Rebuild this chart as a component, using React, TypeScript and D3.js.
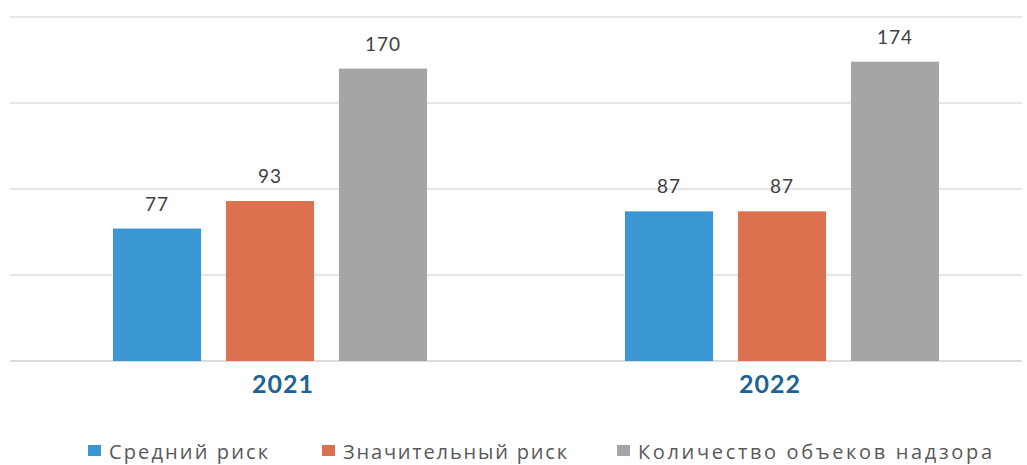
import React, { useEffect, useRef } from 'react';
import * as d3 from 'd3';

const years = ['2021', '2022'];
const seriesNames = ['Средний риск', 'Значительный риск', 'Количество объеков надзора'];
const seriesColors = ['#3b97d3', '#dc7150', '#a5a5a5'];
const mediumRisk = [77, 87];
const significantRisk = [93, 87];
const objectsTotal = [170, 174];
const yTicks = [0, 50, 100, 150, 200];

const W = 1027;
const H = 465;

export default function App() {
  const ref = useRef<SVGSVGElement>(null);

  useEffect(() => {
    const svg = d3.select(ref.current);
    svg.selectAll('*').remove();

    const values = [mediumRisk, significantRisk, objectsTotal];
    const font = 'Lato, "Open Sans", sans-serif';

    const y = d3.scaleLinear().domain([0, 200]).range([361, 17]);
    const x0 = d3.scaleBand().domain(years).range([14, 1038]);
    const x1 = d3
      .scaleBand()
      .domain(seriesNames)
      .range([99, 413])
      .paddingInner(0.22);

    // gridlines
    svg
      .append('g')
      .selectAll('line')
      .data(yTicks)
      .enter()
      .append('line')
      .attr('x1', 10)
      .attr('x2', 1022)
      .attr('y1', (d) => y(d))
      .attr('y2', (d) => y(d))
      .attr('stroke', (d) => (d === 0 ? '#d0d0d0' : '#dedede'))
      .attr('stroke-width', 1.3);

    // year labels sit a little off the group centre in the original
    const yearShift = [13, -12];

    const groups = svg
      .append('g')
      .selectAll('g')
      .data(years)
      .enter()
      .append('g')
      .attr('transform', (d) => `translate(${x0(d)},0)`);

    groups.each(function (year, yi) {
      const g = d3.select(this);
      seriesNames.forEach((name, si) => {
        const v = values[si][yi];
        g.append('rect')
          .attr('x', x1(name)!)
          .attr('y', y(v))
          .attr('width', x1.bandwidth())
          .attr('height', y(0) - y(v))
          .attr('fill', seriesColors[si]);
        g.append('text')
          .attr('x', x1(name)! + x1.bandwidth() / 2)
          .attr('y', y(v) - 18)
          .attr('text-anchor', 'middle')
          .attr('font-family', font)
          .attr('font-size', 19)
          .attr('letter-spacing', 1)
          .attr('fill', '#404040')
          .text(v);
      });
      g.append('text')
        .attr('x', x0.bandwidth() / 2 + yearShift[yi])
        .attr('y', 393)
        .attr('text-anchor', 'middle')
        .attr('font-family', font)
        .attr('font-size', 25)
        .attr('font-weight', 'bold')
        .attr('letter-spacing', 1)
        .attr('fill', '#1f6392')
        .text(year);
    });

    // legend
    const legendX = [88, 322, 617];
    const legendTextLen = [159, 224, 354];
    const legend = svg
      .append('g')
      .selectAll('g')
      .data(seriesNames)
      .enter()
      .append('g')
      .attr('transform', (d, i) => `translate(${legendX[i]},0)`);
    legend
      .append('rect')
      .attr('x', 0)
      .attr('y', 445)
      .attr('width', 13)
      .attr('height', 11)
      .attr('fill', (d, i) => seriesColors[i]);
    legend
      .append('text')
      .attr('x', 21)
      .attr('y', 459)
      .attr('font-family', '"Open Sans", Lato, sans-serif')
      .attr('font-size', 20)
      .attr('textLength', (d, i) => legendTextLen[i])
      .attr('lengthAdjust', 'spacing')
      .attr('fill', '#595959')
      .text((d) => d);
  }, []);

  return (
    <svg
      ref={ref}
      width={W}
      height={H}
      style={{ position: 'absolute', left: 0, top: 0, background: '#fff' }}
    />
  );
}
